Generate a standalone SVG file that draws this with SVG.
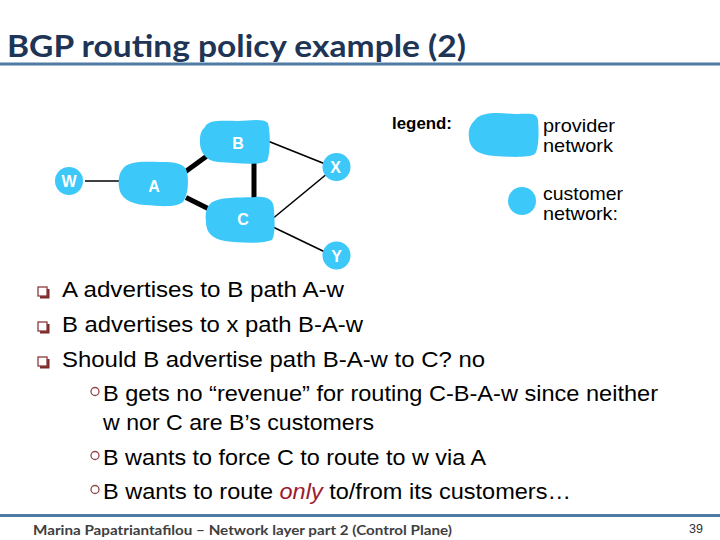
<svg xmlns="http://www.w3.org/2000/svg" width="720" height="540" viewBox="0 0 720 540">
<style>
.blob{fill:#3cc8f8;}
.thin{stroke:#000;stroke-width:1.6;fill:none;}
.thick{stroke:#000;stroke-width:5;fill:none;}
.nl{font-family:"Liberation Sans",Arial,sans-serif;font-size:16px;font-weight:bold;fill:#fff;text-anchor:middle;}
.lg{font-family:"Liberation Sans",Arial,sans-serif;font-size:19px;fill:#000;}
.bt{font-family:"Liberation Sans",Arial,sans-serif;font-size:22.5px;fill:#000;}
.sq{fill:#fff;stroke:#8e3a3a;stroke-width:1.3;}
.sqs{fill:#7a2a2a;}
.ci{fill:#fff;stroke:#8e4a4a;stroke-width:1.3;}
.rule{stroke:#4f7aa3;stroke-width:3;}
</style>
<rect width="720" height="540" fill="#fff"/>
<g id="title">
<text x="7" y="57" font-family="Lato,'Open Sans',sans-serif" font-weight="bold" font-size="31" fill="#203555" textLength="459" lengthAdjust="spacingAndGlyphs">BGP routing policy example (2)</text>
<line class="rule" x1="0" y1="64" x2="720" y2="64"/>
</g>
<g id="connectors">
<line class="thin" x1="85" y1="181" x2="120" y2="181"/>
<line class="thin" x1="269" y1="141.5" x2="324" y2="163.5"/>
<line class="thin" x1="274" y1="217.5" x2="328" y2="173"/>
<line class="thin" x1="274" y1="227.5" x2="325" y2="252"/>
<line class="thick" x1="185" y1="172" x2="211" y2="153"/>
<line class="thick" x1="186" y1="197.5" x2="211" y2="210"/>
<line class="thick" x1="254" y1="162" x2="254" y2="199"/>
</g>
<g id="node-W"><circle class="blob" cx="69" cy="181" r="14"/><text class="nl" x="69" y="187" font-weight="normal">W</text></g>
<g id="node-A"><path class="blob" d="M122,170 C128,160 145,162 160,162 C175,162 185,163 187,172 C189,182 188,195 183,202 C175,208 160,206 145,205 C130,204 120,198 119,187 C118,180 119,174 122,170 Z"/><text class="nl" x="154" y="192">A</text></g>
<g id="node-B"><path class="blob" d="M205,127 C208,119 225,121 238,121 C250,121 262,118 268,123 C271,135 270,155 267,161 C258,166 235,163 218,162 C205,161 199,150 200,140 C200,133 202,130 205,127 Z"/><text class="nl" x="238" y="149">B</text></g>
<g id="node-C"><path class="blob" d="M210,204 C218,196 240,198 255,197 C268,196 274,200 274,210 C275,222 275,235 272,240 C262,244 240,243 225,241 C212,239 206,232 206,222 C205,214 206,208 210,204 Z"/><text class="nl" x="243" y="225">C</text></g>
<g id="node-X"><circle class="blob" cx="336.5" cy="167" r="14"/><text class="nl" x="335.5" y="173" font-weight="normal">X</text></g>
<g id="node-Y"><circle class="blob" cx="336.5" cy="255.5" r="14"/><text class="nl" x="336.5" y="262" font-weight="normal">Y</text></g>
<g id="legend">
<text x="392" y="129" font-family="'Liberation Sans',Arial,sans-serif" font-weight="bold" font-size="17" fill="#000" textLength="60" lengthAdjust="spacingAndGlyphs">legend:</text>
<path class="blob" d="M475,120 C482,111 500,113 515,114 C528,114 537,112 538,120 C539,132 539,148 535,154 C528,158 510,157 495,156 C480,155 470,150 469,138 C468,130 470,125 475,120 Z"/>
<text class="lg" x="543" y="132" textLength="72" lengthAdjust="spacingAndGlyphs">provider</text>
<text class="lg" x="543" y="152" textLength="70" lengthAdjust="spacingAndGlyphs">network</text>
<circle class="blob" cx="522" cy="201" r="14"/>
<text class="lg" x="543" y="200" textLength="80" lengthAdjust="spacingAndGlyphs">customer</text>
<text class="lg" x="543" y="220" textLength="75" lengthAdjust="spacingAndGlyphs">network:</text>
</g>
<g id="bullets">
<rect class="sqs" x="40" y="289" width="9.5" height="9.5"/><rect class="sq" x="38" y="287" width="9" height="9"/>
<text class="bt" x="62" y="297" textLength="282" lengthAdjust="spacingAndGlyphs">A advertises to B path A-w</text>
<rect class="sqs" x="40" y="324" width="9.5" height="9.5"/><rect class="sq" x="38" y="322" width="9" height="9"/>
<text class="bt" x="62" y="332" textLength="301" lengthAdjust="spacingAndGlyphs">B advertises to x path B-A-w</text>
<rect class="sqs" x="40" y="359" width="9.5" height="9.5"/><rect class="sq" x="38" y="357" width="9" height="9"/>
<text class="bt" x="62" y="367" textLength="423" lengthAdjust="spacingAndGlyphs">Should B advertise path B-A-w to C? no</text>
<circle class="ci" cx="95" cy="391.5" r="4"/>
<text class="bt" x="103" y="401" textLength="555" lengthAdjust="spacingAndGlyphs">B gets no “revenue” for routing C-B-A-w since neither</text>
<text class="bt" x="103" y="430" textLength="271" lengthAdjust="spacingAndGlyphs">w nor C are B’s customers</text>
<circle class="ci" cx="95" cy="455.5" r="4"/>
<text class="bt" x="103" y="465" textLength="383" lengthAdjust="spacingAndGlyphs">B wants to force C to route to w via A</text>
<circle class="ci" cx="95" cy="489.5" r="4"/>
<text class="bt" x="103" y="499" textLength="468" lengthAdjust="spacingAndGlyphs">B wants to route <tspan font-style="italic" fill="#9b1b30">only</tspan> to/from its customers…</text>
</g>
<g id="footer">
<line class="rule" x1="0" y1="515.5" x2="720" y2="515.5"/>
<text x="33" y="535" font-family="Lato,'Open Sans',sans-serif" font-weight="bold" font-size="14" fill="#404040" textLength="419" lengthAdjust="spacingAndGlyphs">Marina Papatriantafilou –  Network layer part 2 (Control Plane)</text>
<text x="689" y="533" font-family="'Liberation Sans',Arial,sans-serif" font-size="12.5" fill="#333">39</text>
</g>
</svg>
